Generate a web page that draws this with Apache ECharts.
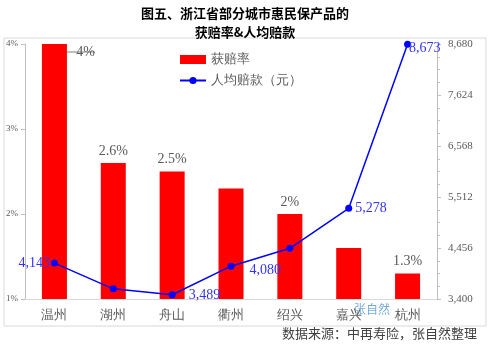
<!DOCTYPE html>
<html><head><meta charset="utf-8">
<script src="https://cdn.jsdelivr.net/npm/echarts@6/dist/echarts.min.js"></script>
<style>html,body{margin:0;padding:0;background:#fff}#c{width:490px;height:346px}</style>
</head><body><div id="c"></div>
<script>
const categories = ['温州','湖州','舟山','衢州','绍兴','嘉兴','杭州'];
const claimRate = [4.0, 2.6, 2.5, 2.3, 2.0, 1.6, 1.3];
const rateLabels = ['4%','2.6%','2.5%','','2%','','1.3%'];
const avgClaim = [4143, 3610, 3489, 4080, 4450, 5278, 8673];
const avgLabelShown = [true, false, true, true, false, true, true];
const leftTicks = [1, 2, 3, 4];
const rightTicks = [3400, 4456, 5512, 6568, 7624, 8680];

const serif = 'Liberation Serif';
const fmt = v => v.toString().replace(/\B(?=(\d{3})+(?!\d))/g, ',');

const linePos = [
  {position:'left', offset:[2,0]},
  null,
  {position:'right', offset:[10,1]},
  {position:'right', offset:[12,4]},
  null,
  {position:'right', offset:[0,0]},
  {position:'right', offset:[-5,4]}
];

const chart = echarts.init(document.getElementById('c'));
chart.setOption({
  animation:false,
  title:{text:'图五、浙江省部分城市惠民保产品的\n获赔率&人均赔款', left:'center', top:-1,
    textStyle:{fontSize:13, fontWeight:'bold', color:'#000', lineHeight:19, fontFamily:'Noto Sans CJK SC'}},
  grid:{left:25, right:53, top:44, bottom:47},
  legend:{show:true, orient:'vertical', left:174, top:48, itemGap:8, itemWidth:26, itemHeight:9,
    textStyle:{fontSize:13, color:'#595959', fontFamily:serif},
    data:[{name:'获赔率', icon:'rect'},{name:'人均赔款（元）'}]},
  xAxis:{type:'category', data:categories,
    axisLine:{lineStyle:{color:'#d9d9d9'}}, axisTick:{show:false},
    axisLabel:{color:'#595959', fontSize:13, fontFamily:serif, margin:10}},
  yAxis:[
    {type:'value', min:1, max:4, interval:1, position:'left',
      axisLine:{show:true, lineStyle:{color:'#bfbfbf'}}, axisTick:{show:true, length:4, lineStyle:{color:'#bfbfbf'}},
      splitLine:{show:false},
      axisLabel:{formatter:v=>v+'%', color:'#595959', fontSize:9, fontFamily:serif, margin:7, align:'right'}},
    {type:'value', min:3400, max:8680, interval:1056, position:'right',
      axisLine:{show:true, lineStyle:{color:'#bfbfbf'}}, axisTick:{show:true, length:4, lineStyle:{color:'#bfbfbf'}},
      minorTick:{show:true, splitNumber:4, length:3, lineStyle:{color:'#bfbfbf'}},
      splitLine:{show:false},
      axisLabel:{formatter:v=>fmt(v), color:'#595959', fontSize:11, fontFamily:serif, margin:11}}
  ],
  series:[
    {name:'获赔率', type:'bar', yAxisIndex:0, barWidth:25, itemStyle:{color:'#FF0000'},
      data:claimRate.map((v,i)=>{
        const d={value:v, label:{show:rateLabels[i]!=='', formatter:rateLabels[i]}};
        if(i===0){ d.label.position='insideTopRight'; d.label.offset=[33,-4]; d.labelLine={show:true, lineStyle:{color:'#7f7f7f'}}; }
        return d;
      }),
      label:{position:'top', color:'#595959', fontSize:14, fontFamily:serif, distance:5},
      labelLine:{show:false}
    },
    {name:'人均赔款（元）', type:'line', yAxisIndex:1, symbol:'circle', symbolSize:7,
      lineStyle:{color:'#0000FF', width:1.5}, itemStyle:{color:'#0000FF'},
      data:avgClaim.map((v,i)=>{
        const d={value:v};
        if(avgLabelShown[i]) d.label={show:true, ...linePos[i]};
        else d.label={show:false};
        return d;
      }),
      label:{color:'#3333FF', fontSize:14, fontFamily:serif, formatter:p=>fmt(p.value), distance:3}
    }
  ],
  graphic:[
    {type:'rect', shape:{x:4, y:38, width:482, height:288}, style:{fill:'none', stroke:'#d9d9d9', lineWidth:1}, z:-1},
    {type:'text', left:282, top:327, style:{text:'数据来源：中再寿险，张自然整理', fill:'#404040', font:'13px "Noto Sans CJK SC"'}},
    {type:'text', left:354, top:303, style:{text:'张自然', fill:'#5b9bd5', opacity:0.85, font:'12px "Noto Sans CJK SC"'}}
  ]
});
</script></body></html>
